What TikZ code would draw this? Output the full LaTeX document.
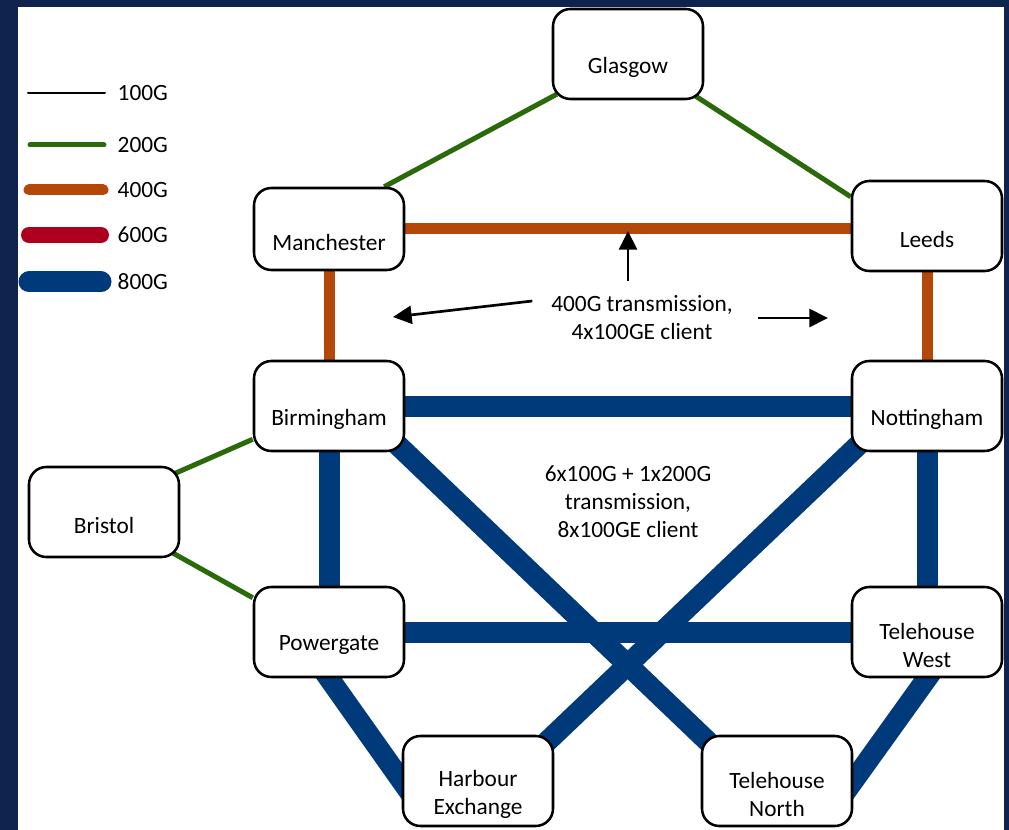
\documentclass[tikz,border=0pt]{standalone}
\usepackage{fontspec}
\setmainfont{Carlito}
\usetikzlibrary{arrows.meta,backgrounds,calc}
\definecolor{framenavy}{RGB}{16,34,78}
\definecolor{linkgreen}{RGB}{43,106,11}
\definecolor{linkorange}{RGB}{180,72,8}
\definecolor{linkred}{RGB}{174,0,30}
\definecolor{linkblue}{RGB}{0,58,122}
\newcommand{\sitefont}{\fontsize{17.5}{21}\selectfont}

\begin{document}
\begin{tikzpicture}[x=0.75pt,y=-0.75pt,font=\sitefont,
  site/.style={draw,line width=1.9pt,fill=white,rounded corners=13pt,
    minimum width=112.5pt,minimum height=67.5pt,inner sep=0pt,
    label={[sitetext]center:#1}},
  sitetext/.style={align=center,yshift=-9.75pt},
  note/.style={align=center,inner xsep=14pt,inner ysep=11pt},
  key/.style={anchor=west},
  g100/.style={line width=1.5pt},
  g200/.style={linkgreen,line width=3.75pt},
  g400/.style={linkorange,line width=8.25pt},
  g600/.style={linkred,line width=12pt},
  g800/.style={linkblue,line width=15.75pt},
  stretch/.style={shorten <=-14pt,shorten >=-14pt},
  pointer/.style={line width=2pt,-{Triangle[length=14pt,width=13.5pt]}}]


% sites
\node[site=Glasgow] (gla) at (628,54) {};
\node[site=Manchester,minimum height=61.5pt] (man) at (329,229) {};
\node[site=Leeds] (lee) at (927,226) {};
\node[site=Birmingham] (bir) at (329,406) {};
\node[site=Nottingham] (nott) at (927,406) {};
\node[site=Bristol] (bri) at (104,512) {};
\node[site=Powergate] (pow) at (329,632) {};
\node[site={Telehouse\\West}] (thw) at (927,632) {};
\node[site={Harbour\\Exchange}] (hex) at (478,781) {};
\node[site={Telehouse\\North}] (thn) at (777,781) {};


% notes
\node[note] (n400) at (642,318) {400G transmission,\\4x100GE client};
\node[note] (n800) at (628,502) {6x100G + 1x200G\\transmission,\\8x100GE client};

\coordinate (tipU) at (628,231);
\coordinate (tipL) at (393,317);
\coordinate (tipR) at (828,318);

\draw[pointer] (tipU |- n400.north) -- (tipU);
\draw[pointer] ([yshift=12.75pt]n400.west) -- (tipL);
\draw[pointer] ([xshift=5pt]n400.east) -- (tipR);


% legend
\draw[g100,line cap=round] (28,93) -- (105,93);
\node[key] (k100) at (113,93) {100G};
\draw[g200,line cap=round] (30,145) -- (104,145);
\node[key] (k200) at (113,145) {200G};
\draw[g400,line cap=round] (29,190) -- (103,190);
\node[key] (k400) at (113,190) {400G};
\draw[g600,line cap=round] (29,235) -- (101,235);
\node[key] (k600) at (113,235) {600G};
\draw[g800,line cap=round] (29,282) -- (101,282);
\node[key] (k800) at (113,282) {800G};


\begin{scope}[on background layer]
\fill[framenavy] (0,0) rectangle (1009,830);
\fill[white] (18,7) rectangle (1004,830);

% links
\draw[g200] ($(gla.south west)+(5,-6)$) -- ($(man.north east)+(-21,0)$);
\draw[g200] ($(gla.south east)+(-10,-5)$) -- ($(lee.north west)+(0,17)$);
\draw[g200] ($(bri.north east)+(-6,8)$) -- ($(bir.south west)+(0,-13)$);
\draw[g200] ($(bri.south east)+(-7,-5)$) -- ($(pow.north west)+(0,12)$);

\draw[g400] (man) -- (man -| lee);
\draw[g400] (man) -- (bir);
\draw[g400] (lee) -- (nott);

\draw[g800] (bir) -- (nott);
\draw[g800] (bir) -- (pow);
\draw[g800] (nott) -- (thw);
\draw[g800] (pow) -- (thw);
\draw[g800,stretch] (bir.south east) -- (thn.north west);
\draw[g800,stretch] (nott.south west) -- (hex.north east);
\draw[g800,stretch] (pow.south) -- (hex.west);
\draw[g800,stretch] (thw.south) -- (thn.east);
\end{scope}

\end{tikzpicture}
\end{document}
